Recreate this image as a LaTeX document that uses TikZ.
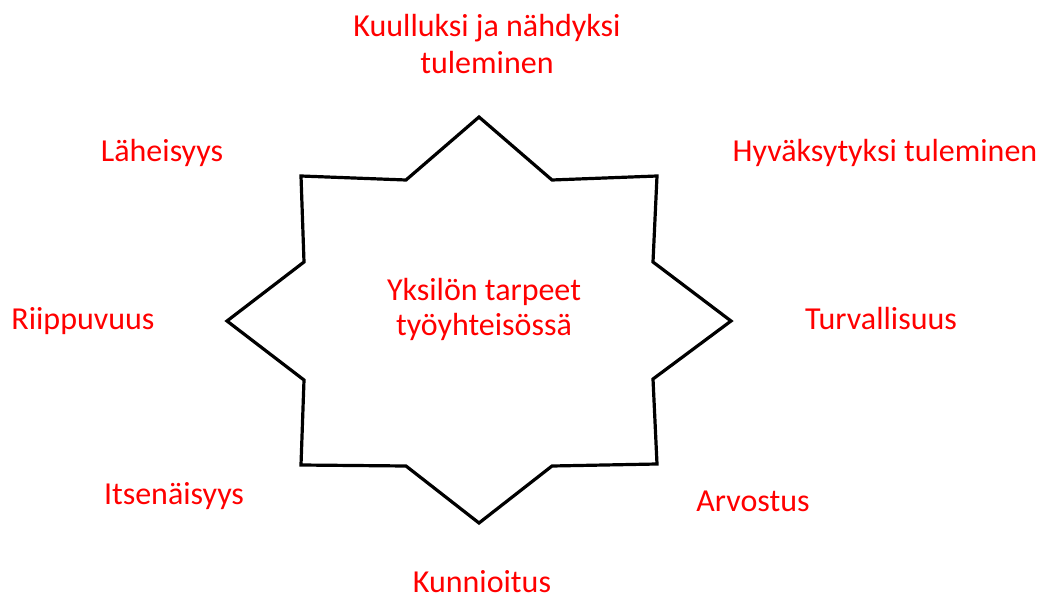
\documentclass[tikz,border=0pt]{standalone}
\usepackage{fontspec}
\setmainfont{Carlito}
\begin{document}
\begin{tikzpicture}[x=1pt,y=-1pt,line width=3.2pt,line join=miter,
  need/.style={text=red,font=\fontsize{32}{37}\selectfont,anchor=base,align=center,inner sep=0pt}]
\useasboundingbox (0,0) rectangle (1047,599);
% the eight-pointed star
\draw (479,117) -- (552,180) -- (657,176) -- (653,262) -- (731,321) -- (653,379)
  -- (657,464) -- (552,466) -- (479,523) -- (406,466) -- (301,465) -- (304,380)
  -- (227,321) -- (304,262) -- (301,176) -- (406,180) -- cycle;
% the needs round the star (base = last line)
\node[need] (kuulluksi) at (487,74) {Kuulluksi ja nähdyksi\\tuleminen};
\foreach \nm/\x/\y/\t in {laheisyys/162/161/Läheisyys,
    hyvaksytyksi/885/161/Hyväksytyksi tuleminen,
    riippuvuus/83/329/Riippuvuus,
    turvallisuus/881/329/Turvallisuus,
    itsenaisyys/174/504/Itsenäisyys,
    arvostus/753/511/Arvostus,
    kunnioitus/482/592/Kunnioitus}
  \node[need] (\nm) at (\x,\y) {\t};
% centre text
\node[need,font=\fontsize{32}{35}\selectfont] (tarpeet) at (484,335) {Yksilön tarpeet\\työyhteisössä};
\end{tikzpicture}
\end{document}
